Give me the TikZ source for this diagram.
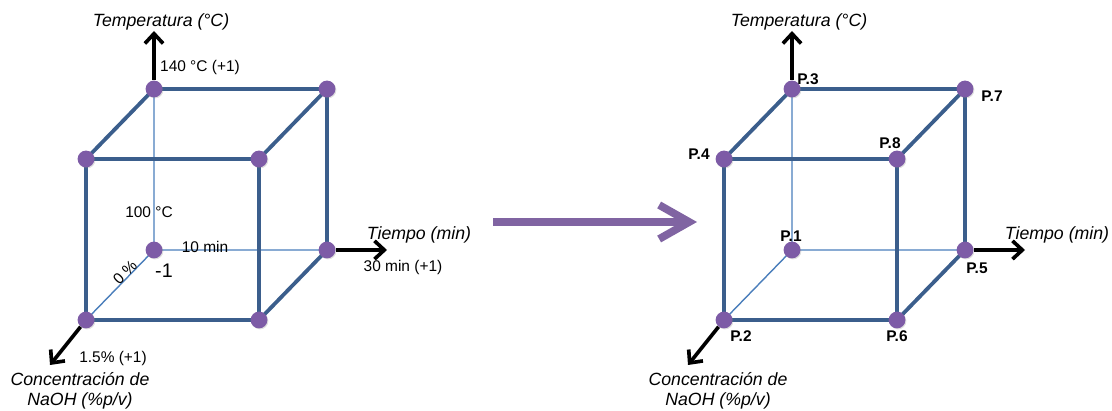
\documentclass[tikz,border=0pt]{standalone}
\usepackage{fontspec}
\setmainfont{Liberation Sans}
\usetikzlibrary{arrows.meta,shadows}
\definecolor{edge}{HTML}{3B5E8C}
\definecolor{hidden}{HTML}{4A7EBB}
\definecolor{dotc}{HTML}{7D5BA6}
\definecolor{arrowc}{HTML}{8064A2}
\pgfdeclarelayer{bg}\pgfsetlayers{bg,main}

\begin{document}
\begin{tikzpicture}[x=0.025cm,y=-0.025cm,font=\fontsize{11}{13}\selectfont,
  dot/.style={circle,fill=dotc,inner sep=0pt,minimum size=0.42cm,
    drop shadow={opacity=.25,shadow xshift=.7pt,shadow yshift=-.7pt}},
  front/.style={edge,line width=2.7pt},
  back/.style={hidden,line width=1pt},
  axis/.style={line width=2.6pt,-{Straight Barb[length=7pt,width=13pt]}},
  axlab/.style={font=\fontsize{12.6}{14.5}\selectfont\itshape,align=center},
  ptlab/.style={font=\fontsize{11}{13}\selectfont\bfseries},
  bigarrow/.style={arrowc,line width=5.5pt,
    -{Straight Barb[length=0.75cm,width=0.85cm]}}]
  \useasboundingbox (0,0) rectangle (1112,411);
  \foreach \c/\dx in {a/0,b/638} {
    \node[dot] (\c1) at ({\dx+154},250) {};
    \node[dot] (\c2) at ({\dx+86},320) {};
    \node[dot] (\c3) at ({\dx+154},89) {};
    \node[dot] (\c4) at ({\dx+86},159) {};
    \node[dot] (\c5) at ({\dx+327},250) {};
    \node[dot] (\c6) at ({\dx+259},320) {};
    \node[dot] (\c7) at ({\dx+327},89) {};
    \node[dot] (\c8) at ({\dx+259},159) {};
    \begin{pgfonlayer}{bg}
      \draw[back] (\c1.center) -- (\c3.center) (\c1.center) -- (\c5.center)
        (\c1.center) -- (\c2.center);
      \draw[front] (\c2.center) -- (\c6.center) -- (\c8.center) -- (\c4.center) -- cycle;
      \draw[front] (\c4.center) -- (\c3.center) -- (\c7.center) -- (\c8.center)
        (\c7.center) -- (\c5.center) -- (\c6.center);
    \end{pgfonlayer}
    \coordinate (\c T) at ({\dx+154},31);
    \coordinate (\c t) at ({\dx+387},250);
    \coordinate (\c n) at ({\dx+50},365);
    \draw[axis] (\c3) -- (\c T);
    \draw[axis] (\c5) -- (\c t);
    \draw[axis] (\c2) -- (\c n);
    \node[axlab] (\c Tl) at ({\dx+161},22) {Temperatura (°C)};
    \node[axlab] (\c tl) at ({\dx+419},235) {Tiempo (min)};
    \node[axlab] (\c nl) at ({\dx+80},391) {Concentración de\\NaOH (\%p/v)};
  }
  \node (hiT) at (200,68) {140 °C (+1)};
  \node (loT) at (149,212) {100 °C};
  \node (lot) at (205,247) {10 min};
  \node[rotate=45,inner sep=1pt] (lon) at (125,272) {0 \%};
  \node[font=\fontsize{14}{16}\selectfont,inner sep=1pt] (minus) at (164,271) {-1};
  \node (hit) at (403,268) {30 min (+1)};
  \node (hin) at (113,358) {1.5\% (+1)};
  \coordinate (go) at (493,222);
  \coordinate (to) at (697,222);
  \draw[bigarrow] (go) -- (to);
  \node[ptlab] (p1) at (791,236) {P.1};
  \node[ptlab] (p2) at (741,336) {P.2};
  \node[ptlab] (p3) at (808,79) {P.3};
  \node[ptlab] (p4) at (699,154) {P.4};
  \node[ptlab] (p5) at (977,268) {P.5};
  \node[ptlab] (p6) at (897,336) {P.6};
  \node[ptlab] (p7) at (992,96) {P.7};
  \node[ptlab] (p8) at (890,143) {P.8};
\end{tikzpicture}
\end{document}
